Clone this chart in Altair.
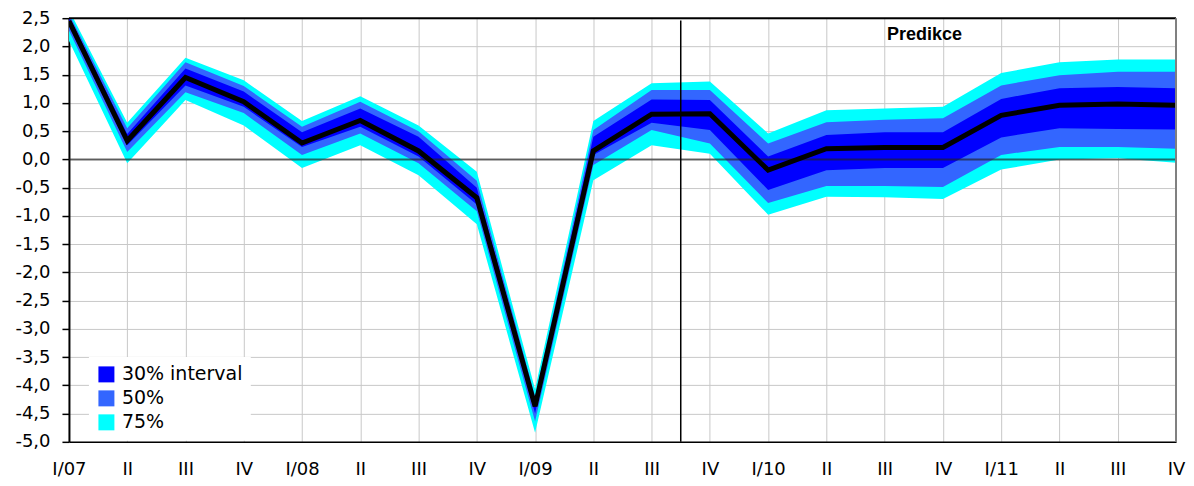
import altair as alt
import pandas as pd

labels = ["I/07", "II", "III", "IV", "I/08", "II", "III", "IV", "I/09", "II",
          "III", "IV", "I/10", "II", "III", "IV", "I/11", "II", "III", "IV"]

center = [2.45, 0.33, 1.45, 1.02, 0.29, 0.69, 0.15, -0.68, -4.37, 0.15,
          0.80, 0.81, -0.19, 0.19, 0.21, 0.21, 0.78, 0.96, 0.98, 0.96]

lo75 = [2.10, -0.07, 1.05, 0.60, -0.15, 0.25, -0.28, -1.15, -4.84, -0.37,
        0.25, 0.10, -0.98, -0.66, -0.67, -0.70, -0.18, 0.00, 0.02, -0.06]
lo50 = [2.28, 0.13, 1.19, 0.82, 0.08, 0.46, -0.07, -0.92, -4.64, -0.10,
        0.52, 0.28, -0.77, -0.47, -0.47, -0.49, 0.08, 0.22, 0.22, 0.19]
lo30 = [2.37, 0.25, 1.31, 0.93, 0.22, 0.58, 0.05, -0.80, -4.50, 0.08,
        0.65, 0.52, -0.54, -0.19, -0.15, -0.15, 0.39, 0.55, 0.54, 0.53]
hi30 = [2.53, 0.45, 1.61, 1.20, 0.48, 0.90, 0.40, -0.50, -4.27, 0.40,
        1.06, 1.05, 0.05, 0.43, 0.48, 0.48, 1.07, 1.26, 1.28, 1.26]
hi50 = [2.58, 0.55, 1.72, 1.30, 0.58, 1.02, 0.50, -0.38, -4.20, 0.52,
        1.23, 1.23, 0.28, 0.66, 0.70, 0.73, 1.31, 1.49, 1.55, 1.55]
hi75 = [2.65, 0.65, 1.80, 1.40, 0.68, 1.12, 0.60, -0.22, -4.07, 0.68,
        1.35, 1.38, 0.46, 0.87, 0.90, 0.93, 1.53, 1.72, 1.77, 1.77]

band_names = ["30% interval", "50%", "75%"]
band_colors = ["#0000FF", "#3366FF", "#00FFFF"]
y_ticks = [-5.0, -4.5, -4.0, -3.5, -3.0, -2.5, -2.0, -1.5, -1.0, -0.5,
           0.0, 0.5, 1.0, 1.5, 2.0, 2.5]
forecast_split = 10.5
note_text = "Predikce"
note_pos = (14.04, 2.11)

idx = list(range(len(labels)))
rows = []
for name, lo, hi in [("75%", lo75, hi75), ("50%", lo50, hi50), ("30% interval", lo30, hi30)]:
    for i in idx:
        rows.append({"i": i, "band": name, "lo": lo[i], "hi": hi[i]})
df_band = pd.DataFrame(rows)
df_line = pd.DataFrame({"i": idx, "v": center})
one = pd.DataFrame({"a": [0]})

label_expr = "[" + ",".join("'%s'" % l for l in labels) + "][datum.value]"
x_scale = alt.Scale(domain=[0, len(labels) - 1], nice=False, zero=False)
y_scale = alt.Scale(domain=[-5, 2.5], nice=False, zero=False)
color_scale = alt.Scale(domain=band_names, range=band_colors)

FONT = "DejaVu Sans"

x_axis = alt.Axis(values=idx, labelExpr=label_expr, title=None, ticks=False,
                  grid=True, gridColor="#c8c8c8", gridWidth=1,
                  domainColor="black", domainWidth=1.5,
                  labelFont=FONT, labelFontSize=18, labelPadding=19,
                  labelColor="black", labelFlush=False, labelOverlap=False)
y_axis = alt.Axis(values=y_ticks,
                  labelExpr="(datum.value < 0 ? '-' : '') + replace(format(abs(datum.value), '.1f'), '.', ',')",
                  title=None, ticks=True, tickSize=7, tickColor="black", tickWidth=1.5,
                  grid=True, gridColor="#c8c8c8", gridWidth=1,
                  domainColor="black", domainWidth=2,
                  labelFont=FONT, labelFontSize=18, labelPadding=12,
                  labelColor="black", labelOverlap=False, labelFlush=False)

legend = alt.Legend(title=None, orient="none", legendX=20, legendY=339,
                    fillColor="white", padding=8, symbolType="square",
                    symbolSize=256, symbolStrokeWidth=0, symbolOpacity=1,
                    labelFont=FONT, labelFontSize=19, labelColor="black",
                    labelOffset=6, rowPadding=4)

X = alt.X("i:Q", scale=x_scale, axis=x_axis)


def XD(v):
    return alt.X(datum=v, scale=x_scale, axis=x_axis)


def YD(v):
    return alt.Y(datum=v, scale=y_scale, axis=y_axis)


def band_layer(name):
    return (alt.Chart(df_band)
            .transform_filter(alt.datum.band == name)
            .mark_area(clip=True, opacity=1, interpolate="linear")
            .encode(
                x=X,
                y=alt.Y("lo:Q", scale=y_scale, axis=y_axis),
                y2="hi:Q",
                color=alt.Color("band:N", scale=color_scale, legend=legend, sort=band_names),
            ))


a75 = band_layer("75%")
a50 = band_layer("50%")
a30 = band_layer("30% interval")

zero_line = alt.Chart(one).mark_rule(color="#202020", strokeWidth=2, opacity=0.65).encode(
    y=YD(0))
top_border = alt.Chart(one).mark_rule(color="black", strokeWidth=2).encode(
    y=YD(2.5))
right_border = alt.Chart(one).mark_rule(color="#808080", strokeWidth=2).encode(
    x=XD(len(labels) - 1))
split_line = alt.Chart(one).mark_rule(color="black", strokeWidth=1.5).encode(
    x=XD(forecast_split), y=YD(2.46), y2=alt.Y2(datum=-5.0))

line = alt.Chart(df_line).mark_line(color="black", strokeWidth=5, clip=True).encode(
    x=X, y=alt.Y("v:Q", scale=y_scale, axis=y_axis))

note = alt.Chart(one).mark_text(text=note_text, font="Liberation Sans", fontWeight="bold",
                                fontSize=18, align="left", baseline="alphabetic",
                                color="black").encode(
    x=XD(note_pos[0]), y=YD(note_pos[1]))

chart = alt.layer(a75, a50, a30, zero_line, split_line, line, top_border, right_border, note).properties(
    width=1108, height=424,
    autosize=alt.AutoSizeParams(type="none"),
    padding={"left": 61, "top": 10, "right": 10, "bottom": 40},
    background="white",
).configure_view(stroke=None)

chart.save("out.html", embed_options={"renderer": "svg", "actions": False})
